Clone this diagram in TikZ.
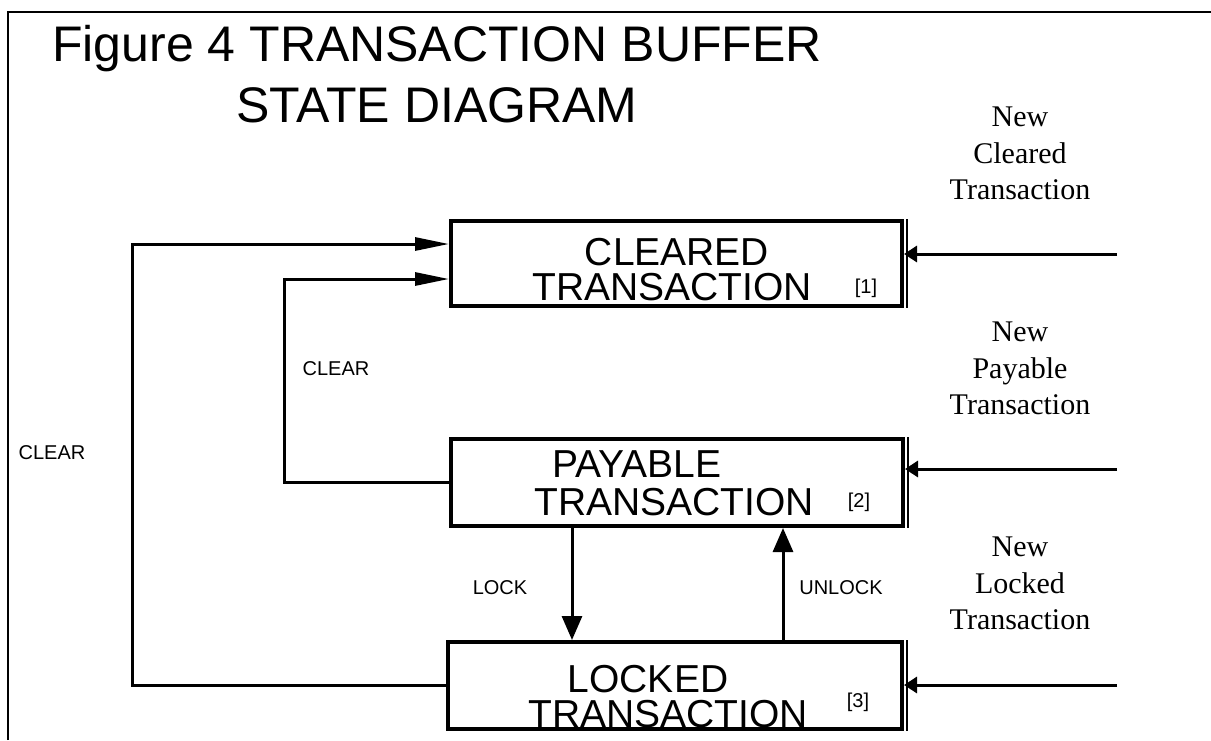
\documentclass[tikz,border=0pt]{standalone}
\usepackage{fontspec}
\setmainfont{Liberation Serif}
\setsansfont{Liberation Sans}
\usetikzlibrary{arrows.meta, positioning}
\tikzset{
  stbox/.style={draw, line width=4pt, minimum height=87pt, inner sep=0pt},
  ttl/.style={anchor=base, inner sep=0pt, font=\sffamily\fontsize{50}{60}\selectfont},
  bigtxt/.style={anchor=base, inner sep=0pt, font=\sffamily\fontsize{39}{40}\selectfont},
  smalltxt/.style={anchor=base, inner sep=0pt, font=\sffamily\fontsize{20}{22}\selectfont},
  newtxt/.style={align=center, inner sep=0pt, font=\fontsize{30}{36.5}\selectfont},
  looparr/.style={line width=3pt, -{Triangle[length=34pt,width=13pt]}},
  vertarr/.style={line width=3pt, -{Triangle[length=24pt,width=20pt]}},
  inarr/.style={line width=3pt, -{Triangle[length=13pt,width=16pt]}}
}
\begin{document}
\begin{tikzpicture}[x=1pt, y=-1pt]
		\useasboundingbox (0,0) rectangle (1211,740);
		\draw[line width=2pt] (8,740) -- (8,12) -- (1211,12);
		% title
		\node[ttl] (T1) at (437,61) {Figure 4 TRANSACTION BUFFER};
		\node[ttl] (T2) at (437,122) {STATE DIAGRAM};
		% states
		\node[stbox, minimum width=451pt, minimum height=85pt] (C1) at (676.5,263.5) {};
		\node[stbox, minimum width=452pt] (P1) at (677,482.5) {};
		\node[stbox, minimum width=454pt] (L1) at (675,685.5) {};
		\foreach \s in {C1,P1,L1}
			\draw[line width=1.5pt] ([xshift=3pt]\s.north east) -- ([xshift=3pt]\s.south east);
		\node[bigtxt] (C1a) at (677,265) {CLEARED};
		\node[bigtxt] (C1b) at (672,300) {TRANSACTION};
		\node[bigtxt] (P1a) at (637,477) {PAYABLE};
		\node[bigtxt] (P1b) at (674,515) {TRANSACTION};
		\node[bigtxt] (L1a) at (648,692) {LOCKED};
		\node[bigtxt] (L1b) at (668,727) {TRANSACTION};
		\node[smalltxt] (C1n) at (866,293) {[1]};
		\node[smalltxt] (P1n) at (859,507) {[2]};
		\node[smalltxt] (L1n) at (858,707) {[3]};
		% transitions
		\coordinate (K1) at (132,244);
		\coordinate (K2) at (284,279);
		\coordinate (K3) at (572,590);
		\coordinate (K4) at (783,590);
		\draw[looparr] (L1.west) -| (K1) -- (K1 -| C1.west);
		\draw[looparr] (P1.west) -| (K2) -- (K2 -| C1.west);
		\draw[vertarr] (K3 |- P1.south) -- (K3 |- L1.north);
		\draw[vertarr] (K4 |- L1.north) -- (K4 |- P1.south);
		\node[smalltxt] (clr1) at (52,459) {CLEAR};
		\node[smalltxt] (clr2) at (336,375) {CLEAR};
		\node[smalltxt] (lck) at (500,594) {LOCK};
		\node[smalltxt] (ulk) at (841,594) {UNLOCK};
		% new transactions
		\coordinate (N1) at (1117,254);
		\coordinate (N2) at (1117,469);
		\coordinate (N3) at (1117,685);
		\draw[inarr] (N1) -- (N1 -| C1.east);
		\draw[inarr] (N2) -- (N2 -| P1.east);
		\draw[inarr] (N3) -- (N3 -| L1.east);
		\node[newtxt] (new1) at (1020,153.5) {New\\Cleared\\Transaction};
		\node[newtxt] (new2) at (1020,368.5) {New\\Payable\\Transaction};
		\node[newtxt] (new3) at (1020,583.5) {New\\Locked\\Transaction};
\end{tikzpicture}
\end{document}
